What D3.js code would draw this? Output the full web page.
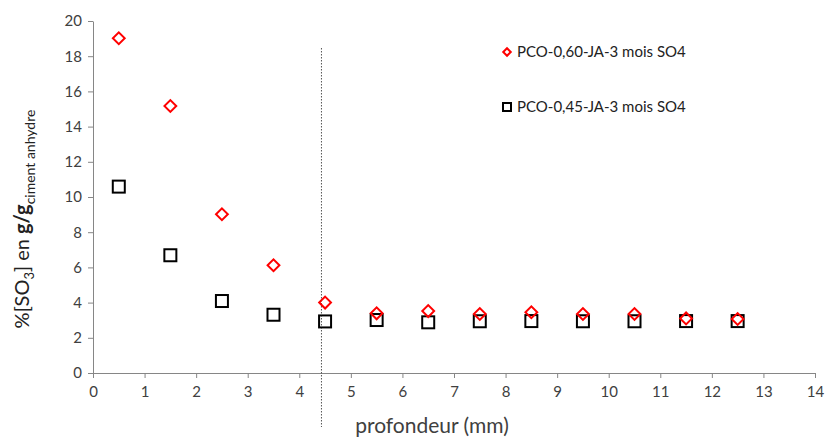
<!DOCTYPE html>
<html><head><meta charset="utf-8">
<script src="https://cdn.jsdelivr.net/npm/d3@7"></script>
<style>body{margin:0;background:#fff}svg{display:block}text{font-family:Lato,"Open Sans",sans-serif}</style>
</head><body><svg id="c" width="827" height="437"></svg>
<script>
const depths=[0.5,1.5,2.5,3.5,4.5,5.5,6.5,7.5,8.5,9.5,10.5,11.5,12.5];
const seriesA=[19.02,15.17,9.02,6.12,4.0,3.39,3.52,3.35,3.45,3.35,3.35,3.1,3.07];
const seriesB=[10.59,6.69,4.09,3.31,2.93,3.01,2.88,2.94,2.95,2.94,2.94,2.95,2.95];
const seriesNames=["PCO-0,60-JA-3 mois SO4","PCO-0,45-JA-3 mois SO4"];
const xTicks=d3.range(0,15,1);
const yTicks=d3.range(0,21,2);
const boundary=4.43;

const svg=d3.select("#c");
const x=d3.scaleLinear().domain([0,14]).range([93,815]);
const y=d3.scaleLinear().domain([0,20]).range([373,21]);
const axisCol="#868686";

const gx=svg.append("g").attr("transform","translate(0,373)")
  .call(d3.axisBottom(x).tickValues(xTicks).tickSize(5).tickSizeOuter(0).tickPadding(8));
const gy=svg.append("g").attr("transform","translate(93,0)")
  .call(d3.axisLeft(y).tickValues(yTicks).tickSize(5).tickSizeOuter(0).tickPadding(6));
[gx,gy].forEach(g=>{
  g.selectAll("path,line").attr("stroke",axisCol);
  g.selectAll("text").attr("fill","#404040").style("font-size","15px").style("font-family","Lato,'Open Sans',sans-serif");
});

svg.append("line").attr("x1",x(boundary)).attr("x2",x(boundary)).attr("y1",48).attr("y2",427)
  .attr("stroke","#555").attr("stroke-width",1).attr("stroke-dasharray","1.5,1.5");

const diamond=d3.symbol().type(d3.symbolSquare).size(70);
svg.append("g").selectAll("rect").data(depths).join("rect")
  .attr("x",(d,i)=>x(d)-6).attr("y",(d,i)=>y(seriesB[i])-6).attr("width",12).attr("height",12)
  .attr("fill","none").attr("stroke","#000").attr("stroke-width",2);
svg.append("g").selectAll("path").data(depths).join("path")
  .attr("d",diamond)
  .attr("transform",(d,i)=>`translate(${x(d)},${y(seriesA[i])}) rotate(45)`)
  .attr("fill","none").attr("stroke","#ff0000").attr("stroke-width",2);

// legend
const lg=svg.append("g");
lg.append("path").attr("d",d3.symbol().type(d3.symbolSquare).size(28)).attr("transform","translate(507,52) rotate(45)")
  .attr("fill","none").attr("stroke","#ff0000").attr("stroke-width",2);
lg.append("rect").attr("x",503).attr("y",103).attr("width",8).attr("height",8).attr("fill","none").attr("stroke","#000").attr("stroke-width",2);
lg.append("text").attr("x",517).attr("y",57).text(seriesNames[0]).attr("fill","#222").style("font-size","15px");
lg.append("text").attr("x",517).attr("y",112).text(seriesNames[1]).attr("fill","#222").style("font-size","15px");

// x title
svg.append("text").attr("x",432).attr("y",433).attr("text-anchor","middle").attr("fill","#404040")
  .style("font-size","21px").text("profondeur (mm)");

// y title
const yt=svg.append("text").attr("transform","translate(29,219) rotate(-90)").attr("text-anchor","middle")
  .attr("fill","#222").style("font-size","20px");
yt.append("tspan").text("%[SO");
yt.append("tspan").attr("dy",5).style("font-size","13px").text("3");
yt.append("tspan").attr("dy",-5).text("] en ");
yt.append("tspan").style("font-weight","bold").text("g/g");
yt.append("tspan").attr("dy",6).style("font-size","14px").text("ciment anhydre");
</script></body></html>
